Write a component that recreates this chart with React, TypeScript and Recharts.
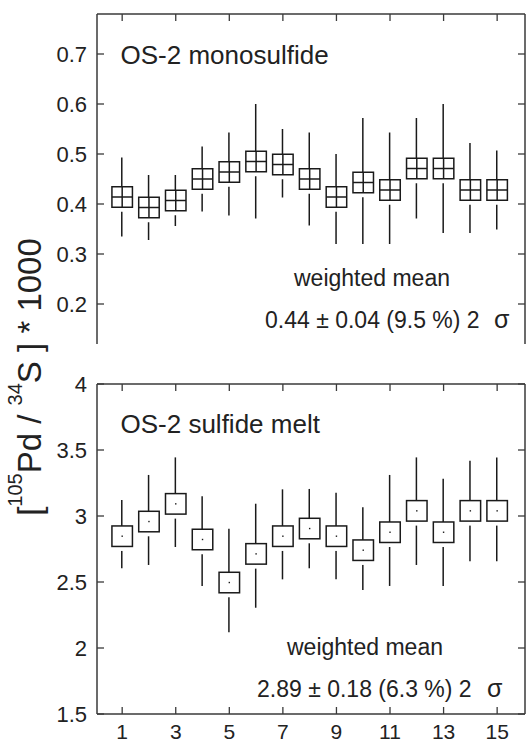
import React from 'react';
import { ComposedChart, XAxis, YAxis, Bar, Scatter } from 'recharts';

// ---- data ----
const runs = [1, 2, 3, 4, 5, 6, 7, 8, 9, 10, 11, 12, 13, 14, 15];

const monoMean = [0.414, 0.393, 0.407, 0.450, 0.464, 0.485, 0.479, 0.450, 0.414, 0.443, 0.428, 0.471, 0.471, 0.428, 0.428];
const monoLow = [0.335, 0.328, 0.356, 0.385, 0.377, 0.371, 0.413, 0.357, 0.320, 0.320, 0.320, 0.371, 0.342, 0.342, 0.349];
const monoHigh = [0.493, 0.458, 0.458, 0.515, 0.543, 0.600, 0.550, 0.543, 0.500, 0.572, 0.543, 0.572, 0.600, 0.522, 0.507];

const meltMean = [2.847, 2.958, 3.092, 2.822, 2.496, 2.713, 2.847, 2.905, 2.847, 2.741, 2.877, 3.039, 2.877, 3.039, 3.039];
const meltLow = [2.604, 2.629, 2.765, 2.470, 2.119, 2.305, 2.520, 2.604, 2.520, 2.439, 2.470, 2.629, 2.470, 2.657, 2.657];
const meltHigh = [3.121, 3.311, 3.444, 3.149, 2.904, 3.093, 3.202, 3.205, 3.177, 3.066, 3.311, 3.444, 3.283, 3.419, 3.444];

const xTicks = [1, 3, 5, 7, 9, 11, 13, 15];
const xDomain = [0.06, 16.04];
const monoTicks = [0.2, 0.3, 0.4, 0.5, 0.6, 0.7];
const monoDomain = [0.12, 0.78];
const meltTicks = [1.5, 2, 2.5, 3, 3.5, 4];
const meltDomain = [1.5, 4];

const build = (mean: number[], low: number[], high: number[]) =>
  runs.map((r, i) => ({ run: r, mean: mean[i], range: [low[i], high[i]] }));

const monoData = build(monoMean, monoLow, monoHigh);
const meltData = build(meltMean, meltLow, meltHigh);

// ---- styles ----
const FONT = '"Liberation Sans", Arial, Helvetica, sans-serif';
const INK = '#1a1a1a';
const FRAME = '#3a3a3a';
const TICK_LEN = 7;
const HALF = 10.25;

const LeftTick = (props: any) => {
  const { x, y, payload } = props;
  return (
    <g>
      <line x1={x} x2={x + TICK_LEN} y1={y} y2={y} stroke={FRAME} strokeWidth={1.3} />
      <text x={x - 10} y={y} dy={8} textAnchor="end" fontSize={22} fontFamily={FONT} fill="#222">
        {payload.value}
      </text>
    </g>
  );
};

const RightTick = (props: any) => {
  const { x, y } = props;
  return <line x1={x - TICK_LEN} x2={x} y1={y} y2={y} stroke={FRAME} strokeWidth={1.3} />;
};

const TopTick = (props: any) => {
  const { x, y } = props;
  return <line x1={x} x2={x} y1={y} y2={y + TICK_LEN} stroke={FRAME} strokeWidth={1.3} />;
};

const BottomTickPlain = (props: any) => {
  const { x, y } = props;
  return <line x1={x} x2={x} y1={y - TICK_LEN} y2={y} stroke={FRAME} strokeWidth={1.3} />;
};

const BottomTickLabel = (props: any) => {
  const { x, y, payload } = props;
  return (
    <g>
      <line x1={x} x2={x} y1={y - TICK_LEN} y2={y} stroke={FRAME} strokeWidth={1.3} />
      <text x={x} y={y + 25} textAnchor="middle" fontSize={21} fontFamily={FONT} fill="#222">
        {payload.value}
      </text>
    </g>
  );
};

const Whisker = (props: any) => {
  const { x, y, width, height } = props;
  if (x == null || y == null) return <g />;
  const cx = x + width / 2;
  const y1 = Math.min(y, y + height);
  const y2 = Math.max(y, y + height);
  return <line x1={cx} x2={cx} y1={y1} y2={y2} stroke={INK} strokeWidth={1.5} />;
};

const makeBox = (cross: boolean) => (props: any) => {
  const { cx, cy } = props;
  if (cx == null || cy == null) return <g />;
  return (
    <g>
      <rect x={cx - HALF - 1} y={cy + HALF} width={2 * HALF + 2} height={4.5} fill="#fff" />
      <rect x={cx - HALF} y={cy - HALF} width={2 * HALF} height={2 * HALF} fill="#fff" stroke={INK} strokeWidth={1.5} />
      {cross ? (
        <g stroke={INK} strokeWidth={1.5}>
          <line x1={cx - HALF} x2={cx + HALF} y1={cy} y2={cy} />
          <line x1={cx} x2={cx} y1={cy - HALF} y2={cy + HALF} />
        </g>
      ) : (
        <rect x={cx - 0.7} y={cy - 0.7} width={1.4} height={1.4} fill={INK} />
      )}
    </g>
  );
};

const MonoBox = makeBox(true);
const MeltBox = makeBox(false);
const Nothing = () => <g />;

type PanelProps = {
  data: any[];
  domain: number[];
  ticks: number[];
  top: number;
  height: number;
  bottomMargin: number;
  xHeight: number;
  labels: boolean;
  cross: boolean;
};

const Panel = ({ data, domain, ticks, top, height, bottomMargin, xHeight, labels, cross }: PanelProps) => (
  <div style={{ position: 'absolute', left: 0, top }}>
    <ComposedChart
      width={526}
      height={height}
      data={data}
      margin={{ top: 13, right: 0, bottom: bottomMargin, left: 0 }}
    >
      <XAxis
        xAxisId="b"
        dataKey="run"
        type="number"
        orientation="bottom"
        domain={xDomain}
        allowDataOverflow
        ticks={xTicks}
        interval={0}
        height={xHeight}
        tickSize={0}
        tickMargin={0}
        tickLine={false}
        axisLine={{ stroke: FRAME, strokeWidth: 1.5 }}
        tick={labels ? <BottomTickLabel /> : <BottomTickPlain />}
      />
      <XAxis
        xAxisId="t"
        dataKey="run"
        type="number"
        orientation="top"
        domain={xDomain}
        allowDataOverflow
        ticks={xTicks}
        interval={0}
        height={1}
        tickSize={0}
        tickMargin={0}
        tickLine={false}
        axisLine={{ stroke: FRAME, strokeWidth: 1.5 }}
        tick={<TopTick />}
      />
      <YAxis
        yAxisId="l"
        orientation="left"
        type="number"
        domain={domain}
        allowDataOverflow
        ticks={ticks}
        interval={0}
        width={97}
        tickSize={0}
        tickMargin={0}
        tickLine={false}
        axisLine={{ stroke: FRAME, strokeWidth: 1.5 }}
        tick={<LeftTick />}
      />
      <YAxis
        yAxisId="r"
        orientation="right"
        type="number"
        domain={domain}
        allowDataOverflow
        ticks={ticks}
        interval={0}
        width={1}
        tickSize={0}
        tickMargin={0}
        tickLine={false}
        axisLine={{ stroke: FRAME, strokeWidth: 1.5 }}
        tick={<RightTick />}
      />
      <Scatter
        xAxisId="t"
        yAxisId="r"
        dataKey="mean"
        shape={Nothing}
        isAnimationActive={false}
      />
      <Bar
        xAxisId="b"
        yAxisId="l"
        dataKey="range"
        barSize={2}
        shape={<Whisker />}
        isAnimationActive={false}
      />
      <Scatter
        xAxisId="b"
        yAxisId="l"
        dataKey="mean"
        shape={cross ? MonoBox : MeltBox}
        isAnimationActive={false}
      />
    </ComposedChart>
  </div>
);

export default function App() {
  return (
    <div style={{ position: 'absolute', left: 0, top: 0, width: 526, height: 743, background: '#fff' }}>
      <Panel data={monoData} domain={monoDomain} ticks={monoTicks} top={0} height={350} bottomMargin={6} xHeight={0} labels={false} cross />
      <Panel data={meltData} domain={meltDomain} ticks={meltTicks} top={370} height={373} bottomMargin={0} xHeight={29} labels cross={false} />
      <svg
        width={526}
        height={743}
        style={{ position: 'absolute', left: 0, top: 0, pointerEvents: 'none' }}
        fontFamily={FONT}
        fill="#222"
      >
        <text x={120.5} y={64} fontSize={26}>OS-2 monosulfide</text>
        <text x={294} y={286} fontSize={23}>weighted mean</text>
        <text x={265} y={328} fontSize={23}>0.44 ± 0.04 (9.5 %) 2</text>
        <text x={494} y={328} fontSize={25}>σ</text>

        <text x={120.5} y={433} fontSize={26}>OS-2 sulfide melt</text>
        <text x={287} y={655} fontSize={23}>weighted mean</text>
        <text x={257} y={697} fontSize={23}>2.89 ± 0.18 (6.3 %) 2</text>
        <text x={487} y={697} fontSize={25}>σ</text>

        <text transform="rotate(-90)" x={-377} y={41} textAnchor="middle" fontSize={33}>
          [<tspan dy={-19} fontSize={20}>105</tspan>
          <tspan dy={19}>Pd / </tspan>
          <tspan dy={-19} fontSize={20}>34</tspan>
          <tspan dy={19}>S ] * 1000</tspan>
        </text>
      </svg>
    </div>
  );
}
